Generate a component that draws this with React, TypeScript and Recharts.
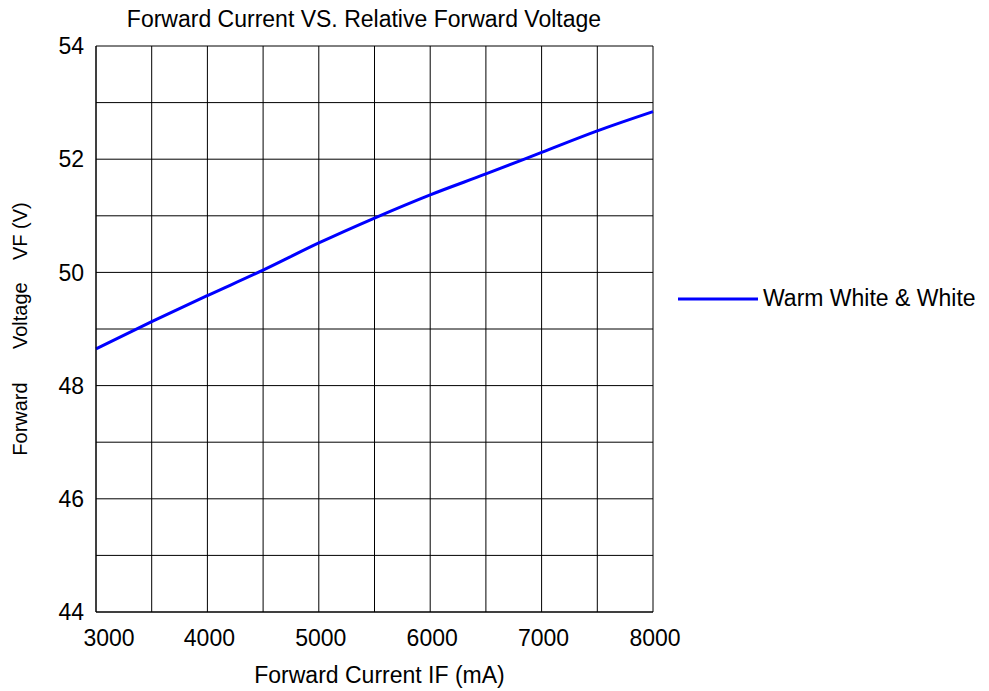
import { CartesianGrid, Label, Legend, Line, LineChart, XAxis, YAxis } from "recharts";

const currents = [3000, 3500, 4000, 4500, 5000, 5500, 6000, 6500, 7000, 7500, 8000];
const voltages = [48.65, 49.13, 49.59, 50.04, 50.52, 50.96, 51.37, 51.74, 52.12, 52.5, 52.84];
const xTicks = [3000, 4000, 5000, 6000, 7000, 8000];
const yTicks = [44, 46, 48, 50, 52, 54];
const xGrid = [3000, 3500, 4000, 4500, 5000, 5500, 6000, 6500, 7000, 7500, 8000];
const yGrid = [44, 45, 46, 47, 48, 49, 50, 51, 52, 53, 54];
const seriesName = "Warm White & White";

const font = "'Liberation Sans', Arial, sans-serif";
const fontSize = 23;

const data = currents.map((c, i) => ({ current: c, vf: voltages[i] }));

function LegendRow() {
  return (
    <div style={{ display: "flex", alignItems: "center", fontFamily: font, fontSize, color: "#000" }}>
      <svg width={82} height={6} style={{ display: "block" }}>
        <line x1={1} y1={3} x2={81} y2={3} stroke="#0000ff" strokeWidth={3} />
      </svg>
      <span style={{ marginLeft: 4, whiteSpace: "nowrap" }}>{seriesName}</span>
    </div>
  );
}

// first label sits a bit right of its gridline in the original
function XTick(props: any) {
  const { x, y, payload } = props;
  const dx = payload.value === 3000 ? 13 : 2;
  return (
    <text x={x + dx} y={y} dy={20} textAnchor="middle" fill="#000" fontSize={fontSize} fontFamily={font}>
      {payload.value}
    </text>
  );
}

export default function App() {
  const yLabel = "Forward\u00a0\u00a0\u00a0\u00a0\u00a0\u00a0Voltage\u00a0\u00a0\u00a0\u00a0VF\u00a0(V)";
  return (
    <div style={{ position: "absolute", left: 0, top: 0, width: 989, height: 691, background: "#fff", fontFamily: font }}>
      <div
        style={{
          position: "absolute",
          left: 0,
          width: 728,
          top: 6,
          textAlign: "center",
          fontSize,
          color: "#000",
          whiteSpace: "nowrap",
        }}
      >
        Forward Current VS. Relative Forward Voltage
      </div>
      <LineChart width={989} height={691} data={data} margin={{ top: 46, right: 336, left: 0, bottom: 0 }}>
        <CartesianGrid stroke="#000" strokeWidth={1} horizontalValues={yGrid} verticalValues={xGrid} />
        <XAxis
          dataKey="current"
          type="number"
          domain={[3000, 8000]}
          ticks={xTicks}
          height={79}
          tickLine={false}
          tickSize={0}
          tickMargin={14}
          axisLine={{ stroke: "#000" }}
          tick={<XTick />}
        >
          <Label
            value="Forward Current IF (mA)"
            position="insideBottom"
            offset={8}
            dx={5}
            style={{ fill: "#000", fontSize, fontFamily: font }}
          />
        </XAxis>
        <YAxis
          type="number"
          domain={[44, 54]}
          ticks={yTicks}
          width={96}
          tickLine={false}
          tickSize={0}
          tickMargin={12}
          axisLine={{ stroke: "#000" }}
          tick={{ fill: "#000", fontSize, fontFamily: font }}
        >
          <Label
            content={(props: any) => {
              const vb = props.viewBox || { x: 0, y: 46, height: 566 };
              const cx = 20;
              const cy = vb.y + vb.height / 2;
              return (
                <text
                  x={cx}
                  y={cy}
                  transform={`rotate(-90, ${cx}, ${cy})`}
                  textAnchor="middle"
                  dominantBaseline="central"
                  fill="#000"
                  fontSize={20}
                  fontFamily={font}
                >
                  {yLabel}
                </text>
              );
            }}
          />
        </YAxis>
        <Legend
          layout="horizontal"
          verticalAlign="middle"
          align="center"
          content={() => <LegendRow />}
          wrapperStyle={{ left: 677, top: 285, width: "auto" }}
        />
        <Line
          type="monotone"
          dataKey="vf"
          name={seriesName}
          stroke="#0000ff"
          strokeWidth={3}
          dot={false}
          isAnimationActive={false}
        />
      </LineChart>
    </div>
  );
}
